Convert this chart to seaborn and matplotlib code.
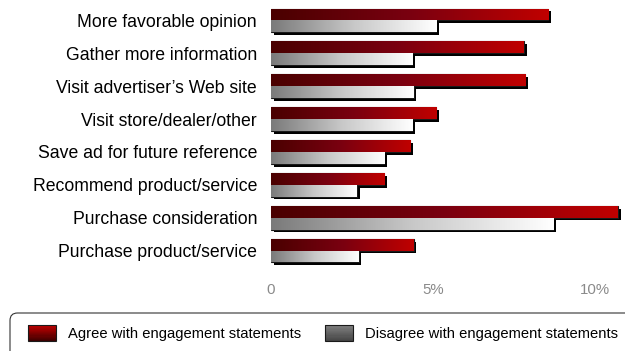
import numpy as np
import pandas as pd
import matplotlib
matplotlib.use("Agg")
import matplotlib.pyplot as plt
import seaborn as sns
from matplotlib import patheffects as pe
from matplotlib.patches import Rectangle, Patch, FancyBboxPatch
from matplotlib.legend_handler import HandlerBase
from matplotlib.colors import LinearSegmentedColormap

categories = ["More favorable opinion", "Gather more information",
              "Visit advertiser\u2019s Web site", "Visit store/dealer/other",
              "Save ad for future reference", "Recommend product/service",
              "Purchase consideration", "Purchase product/service"]
agree = [8.55, 7.8, 7.85, 5.1, 4.3, 3.5, 10.7, 4.4]
disagree = [5.1, 4.35, 4.4, 4.35, 3.5, 2.65, 8.7, 2.7]
series = ["Agree with engagement statements", "Disagree with engagement statements"]
xticks = [0, 5, 10]
xticklabels = ["0", "5%", "10%"]

df = pd.DataFrame({
    "category": categories * 2,
    "value": agree + disagree,
    "series": [series[0]] * len(categories) + [series[1]] * len(categories),
})

sns.set_theme(style="white")
plt.rcParams["font.family"] = ["Liberation Sans", "DejaVu Sans"]

fig = plt.figure(figsize=(6.25, 3.51), dpi=100)
ax = fig.add_axes([271 / 625, 84 / 351, 354 / 625, 263 / 351])

sns.barplot(data=df, x="value", y="category", hue="series", orient="h",
            palette=["#a00000", "#909090"], width=0.72, ax=ax, legend=False,
            edgecolor="#1a1a1a", linewidth=0.8)

red_cmap = LinearSegmentedColormap.from_list("r", ["#4a0000", "#7a0010", "#c00000"])
grey_cmap = LinearSegmentedColormap.from_list("g", ["#7a7a7a", "#c8c8c8", "#ffffff"])
grad = np.linspace(0, 1, 256).reshape(1, -1)

n = len(categories)
for i, p in enumerate(ax.patches[: 2 * n]):
    x0, y0 = p.get_x(), p.get_y()
    w, h = p.get_width(), p.get_height()
    cmap = red_cmap if i < n else grey_cmap
    p.set_path_effects([pe.SimplePatchShadow(offset=(2, -2), shadow_rgbFace="black", alpha=1.0),
                        pe.Normal()])
    im = ax.imshow(grad, cmap=cmap, extent=[x0, x0 + w, y0 + h, y0],
                   aspect="auto", interpolation="bilinear", zorder=p.get_zorder() + 0.1)
    im.set_clip_path(p)

ax.set_xlim(0, 10.92)
ax.set_ylim(n - 0.5, -0.5)
ax.set_xticks(xticks)
ax.set_xticklabels(xticklabels, color="#8a8a8a", fontsize=10.8)
ax.tick_params(axis="x", length=0, pad=11.5)
ax.tick_params(axis="y", length=0, pad=10, labelsize=12.7, labelcolor="black")
ax.set_xlabel("")
ax.set_ylabel("")
for s in ax.spines.values():
    s.set_visible(False)


class GradHandler(HandlerBase):
    def __init__(self, top, bottom):
        super().__init__()
        self.top = np.array(matplotlib.colors.to_rgb(top))
        self.bottom = np.array(matplotlib.colors.to_rgb(bottom))

    def create_artists(self, legend, orig_handle, xdescent, ydescent, width, height, fontsize, trans):
        arts = []
        k = 14
        for j in range(k):
            t = j / (k - 1)
            c = self.bottom * (1 - t) + self.top * t
            r = Rectangle((-xdescent, -ydescent + height * j / k), width, height / k + 0.05,
                          facecolor=c, edgecolor="none", transform=trans)
            arts.append(r)
        arts.append(Rectangle((-xdescent, -ydescent), width, height, facecolor="none",
                              edgecolor="#1a1a1a", linewidth=0.8, transform=trans))
        return arts


# legend frame (extends beyond the figure edges like the reference)
frame = FancyBboxPatch((10 / 625, -12 / 351), 640 / 625, 50 / 351,
                       boxstyle="round,pad=0,rounding_size=0.012",
                       transform=fig.transFigure, facecolor="white",
                       edgecolor="#333333", linewidth=0.8, mutation_aspect=625 / 351)
fig.patches.append(frame)

h1 = Patch(label=series[0])
h2 = Patch(label=series[1])
leg = fig.legend(handles=[h1, h2], labels=series, ncol=2, loc="center left",
                 bbox_to_anchor=(28 / 625, 18 / 351), fontsize=10.6, frameon=False,
                 handlelength=1.9, handleheight=1.36,
                 handletextpad=0.82, columnspacing=1.63, borderpad=0, borderaxespad=0,
                 handler_map={h1: GradHandler("#c00000", "#400000"),
                              h2: GradHandler("#808080", "#454545")})
for t in leg.get_texts():
    t.set_color("black")

fig.savefig("out.png", dpi=100)
